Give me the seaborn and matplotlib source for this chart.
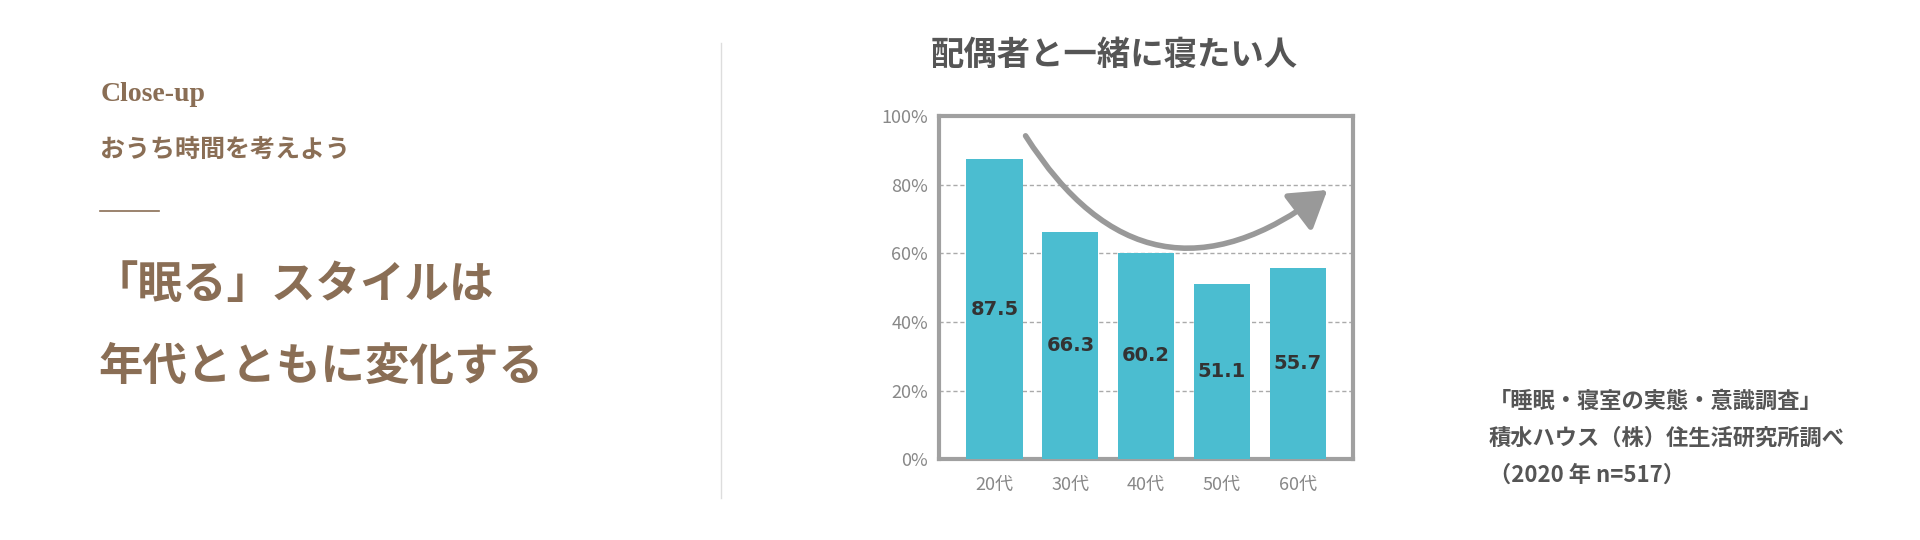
import matplotlib
matplotlib.use("Agg")
import matplotlib.pyplot as plt
import seaborn as sns
import pandas as pd
from matplotlib.patches import FancyArrowPatch

categories = ["20代", "30代", "40代", "50代", "60代"]
values = [87.5, 66.3, 60.2, 51.1, 55.7]
yticks = [0, 20, 40, 60, 80, 100]
ytick_labels = ["0%", "20%", "40%", "60%", "80%", "100%"]

JP = "Noto Sans CJK JP"
BROWN = "#8a6e55"
W, H = 1568, 441

fig = plt.figure(figsize=(19.2, 5.4), dpi=100)
fig.patch.set_facecolor("white")

def ft(x, y, s, **kw):
    fig.text(x / W, 1 - y / H, s, **kw)

ft(82, 77, "Close-up", family="Liberation Serif", fontweight="bold", fontsize=20, color=BROWN, va="center")
ft(82, 122, "おうち時間を考えよう", family=JP, fontweight="bold", fontsize=18, color=BROWN, va="center")
fig.add_artist(plt.Line2D([82 / W, 130 / W], [1 - 172 / H] * 2, color=BROWN, lw=1.2))
ft(76, 233, "「眠る」スタイルは", family=JP, fontweight="bold", fontsize=32, color=BROWN, va="center")
ft(80, 300, "年代とともに変化する", family=JP, fontweight="bold", fontsize=32, color=BROWN, va="center")
fig.add_artist(plt.Line2D([589 / W] * 2, [1 - 35 / H, 1 - 407 / H], color="#dddddd", lw=1))
ft(910, 45, "配偶者と一緒に寝たい人", family=JP, fontweight="bold", fontsize=24, color="#555555", va="center", ha="center")
for y, s in [(328, "「睡眠・寝室の実態・意識調査」"), (358, "積水ハウス（株）住生活研究所調べ"), (388, "（2020 年 n=517）")]:
    ft(1216, y, s, family=JP, fontsize=16, color="#555555", va="center", fontweight="bold")

ax = fig.add_axes([767 / W, 1 - 375 / H, (1105 - 767) / W, (375 - 95) / H])
df = pd.DataFrame({"age": categories, "pct": values})
sns.barplot(data=df, x="age", y="pct", color="#4bbdd0", saturation=1, width=0.74, ax=ax, zorder=3)
ax.set_xlim(-0.73, 4.73)
ax.set_ylim(0, 100)
ax.set_yticks(yticks)
ax.set_yticklabels(ytick_labels)
ax.set_xlabel("")
ax.set_ylabel("")
for t in yticks[1:-1]:
    ax.axhline(t, color="#aaaaaa", lw=1, ls=(0, (3, 2)), zorder=1)
for sp in ax.spines.values():
    sp.set_color("#a0a0a0")
    sp.set_linewidth(3)
ax.tick_params(length=0, labelsize=13, labelcolor="#888888", pad=8)
ax.tick_params(axis="x", pad=12)
for lab in ax.get_xticklabels() + ax.get_yticklabels():
    lab.set_family(JP)
for i, v in enumerate(values):
    ax.text(i, v / 2, f"{v:.1f}", ha="center", va="center", fontsize=14, fontweight="bold", color="#333333", zorder=5)

arr = FancyArrowPatch((0.39, 95), (4.42, 79), connectionstyle="arc3,rad=0.55",
                      arrowstyle="-|>,head_length=11,head_width=7", color="#999999", lw=4,
                      mutation_scale=2, zorder=6)
ax.add_patch(arr)

fig.savefig("out.png", dpi=100, facecolor="white")
